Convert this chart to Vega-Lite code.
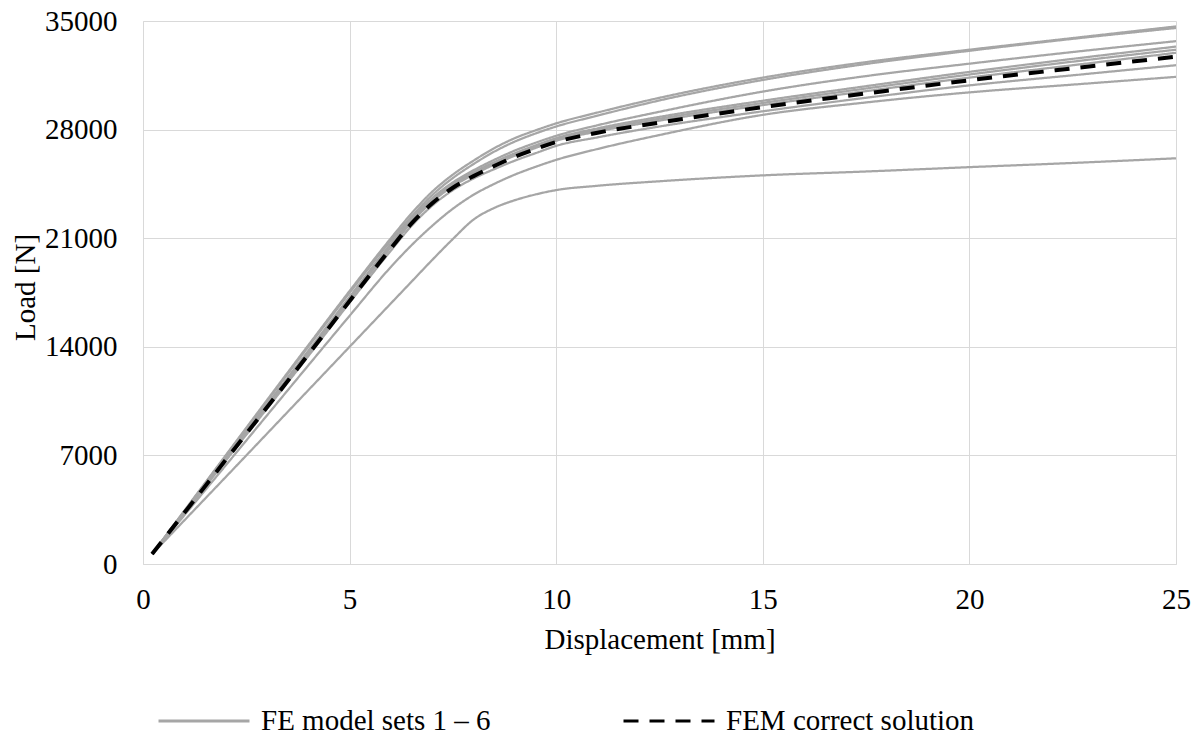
{
  "$schema": "https://vega.github.io/schema/vega-lite/v6.json",
  "width": 1033,
  "height": 543,
  "autosize": {"type": "none"},
  "padding": {"left": 143, "top": 21, "right": 18, "bottom": 171},
  "background": "white",
  "config": {
    "view": {"stroke": null},
    "font": "Liberation Serif",
    "axis": {
      "grid": true,
      "gridColor": "#d9d9d9",
      "gridWidth": 1,
      "domainColor": "#d9d9d9",
      "domainWidth": 1,
      "ticks": false,
      "tickSize": 0,
      "labelFont": "Liberation Serif",
      "labelFontSize": 29,
      "labelColor": "#000000",
      "titleFont": "Liberation Serif",
      "titleFontSize": 29,
      "titleFontWeight": "normal",
      "titleColor": "#000000"
    },
    "legend": {
      "orient": "none",
      "legendX": 14,
      "legendY": 653,
      "direction": "horizontal",
      "title": null,
      "symbolType": "stroke",
      "symbolSize": 8281,
      "symbolStrokeWidth": 3,
      "labelFont": "Liberation Serif",
      "labelFontSize": 29,
      "labelColor": "#000000",
      "labelOffset": 10,
      "labelLimit": 500,
      "columnPadding": 126
    }
  },
  "datasets": {
    "fe": [
      {"curve": "T1", "set": "FE model sets 1 – 6", "x": 0.22, "load": 640},
      {"curve": "T1", "set": "FE model sets 1 – 6", "x": 2, "load": 7000},
      {"curve": "T1", "set": "FE model sets 1 – 6", "x": 4, "load": 14100},
      {"curve": "T1", "set": "FE model sets 1 – 6", "x": 5, "load": 17600},
      {"curve": "T1", "set": "FE model sets 1 – 6", "x": 6, "load": 21000},
      {"curve": "T1", "set": "FE model sets 1 – 6", "x": 6.5, "load": 22600},
      {"curve": "T1", "set": "FE model sets 1 – 6", "x": 7, "load": 24000},
      {"curve": "T1", "set": "FE model sets 1 – 6", "x": 7.5, "load": 25100},
      {"curve": "T1", "set": "FE model sets 1 – 6", "x": 8, "load": 26000},
      {"curve": "T1", "set": "FE model sets 1 – 6", "x": 8.5, "load": 26800},
      {"curve": "T1", "set": "FE model sets 1 – 6", "x": 9, "load": 27450},
      {"curve": "T1", "set": "FE model sets 1 – 6", "x": 9.5, "load": 27950},
      {"curve": "T1", "set": "FE model sets 1 – 6", "x": 10, "load": 28400},
      {"curve": "T1", "set": "FE model sets 1 – 6", "x": 11, "load": 29100},
      {"curve": "T1", "set": "FE model sets 1 – 6", "x": 12.5, "load": 30050},
      {"curve": "T1", "set": "FE model sets 1 – 6", "x": 15, "load": 31350},
      {"curve": "T1", "set": "FE model sets 1 – 6", "x": 17.5, "load": 32350},
      {"curve": "T1", "set": "FE model sets 1 – 6", "x": 20, "load": 33150},
      {"curve": "T1", "set": "FE model sets 1 – 6", "x": 22.5, "load": 33900},
      {"curve": "T1", "set": "FE model sets 1 – 6", "x": 25, "load": 34650},

      {"curve": "T2", "set": "FE model sets 1 – 6", "x": 0.22, "load": 640},
      {"curve": "T2", "set": "FE model sets 1 – 6", "x": 2, "load": 6950},
      {"curve": "T2", "set": "FE model sets 1 – 6", "x": 4, "load": 14000},
      {"curve": "T2", "set": "FE model sets 1 – 6", "x": 5, "load": 17480},
      {"curve": "T2", "set": "FE model sets 1 – 6", "x": 6, "load": 20850},
      {"curve": "T2", "set": "FE model sets 1 – 6", "x": 6.5, "load": 22400},
      {"curve": "T2", "set": "FE model sets 1 – 6", "x": 7, "load": 23780},
      {"curve": "T2", "set": "FE model sets 1 – 6", "x": 7.5, "load": 24880},
      {"curve": "T2", "set": "FE model sets 1 – 6", "x": 8, "load": 25780},
      {"curve": "T2", "set": "FE model sets 1 – 6", "x": 8.5, "load": 26580},
      {"curve": "T2", "set": "FE model sets 1 – 6", "x": 9, "load": 27230},
      {"curve": "T2", "set": "FE model sets 1 – 6", "x": 9.5, "load": 27750},
      {"curve": "T2", "set": "FE model sets 1 – 6", "x": 10, "load": 28200},
      {"curve": "T2", "set": "FE model sets 1 – 6", "x": 11, "load": 28900},
      {"curve": "T2", "set": "FE model sets 1 – 6", "x": 12.5, "load": 29880},
      {"curve": "T2", "set": "FE model sets 1 – 6", "x": 15, "load": 31200},
      {"curve": "T2", "set": "FE model sets 1 – 6", "x": 17.5, "load": 32230},
      {"curve": "T2", "set": "FE model sets 1 – 6", "x": 20, "load": 33080},
      {"curve": "T2", "set": "FE model sets 1 – 6", "x": 22.5, "load": 33850},
      {"curve": "T2", "set": "FE model sets 1 – 6", "x": 25, "load": 34550},

      {"curve": "S2", "set": "FE model sets 1 – 6", "x": 0.22, "load": 640},
      {"curve": "S2", "set": "FE model sets 1 – 6", "x": 2, "load": 6820},
      {"curve": "S2", "set": "FE model sets 1 – 6", "x": 4, "load": 13740},
      {"curve": "S2", "set": "FE model sets 1 – 6", "x": 5, "load": 17220},
      {"curve": "S2", "set": "FE model sets 1 – 6", "x": 6, "load": 20650},
      {"curve": "S2", "set": "FE model sets 1 – 6", "x": 6.5, "load": 22250},
      {"curve": "S2", "set": "FE model sets 1 – 6", "x": 7, "load": 23580},
      {"curve": "S2", "set": "FE model sets 1 – 6", "x": 7.5, "load": 24600},
      {"curve": "S2", "set": "FE model sets 1 – 6", "x": 8, "load": 25380},
      {"curve": "S2", "set": "FE model sets 1 – 6", "x": 8.5, "load": 26050},
      {"curve": "S2", "set": "FE model sets 1 – 6", "x": 9, "load": 26650},
      {"curve": "S2", "set": "FE model sets 1 – 6", "x": 9.5, "load": 27150},
      {"curve": "S2", "set": "FE model sets 1 – 6", "x": 10, "load": 27600},
      {"curve": "S2", "set": "FE model sets 1 – 6", "x": 11, "load": 28280},
      {"curve": "S2", "set": "FE model sets 1 – 6", "x": 12.5, "load": 29150},
      {"curve": "S2", "set": "FE model sets 1 – 6", "x": 15, "load": 30450},
      {"curve": "S2", "set": "FE model sets 1 – 6", "x": 17.5, "load": 31450},
      {"curve": "S2", "set": "FE model sets 1 – 6", "x": 20, "load": 32250},
      {"curve": "S2", "set": "FE model sets 1 – 6", "x": 22.5, "load": 33000},
      {"curve": "S2", "set": "FE model sets 1 – 6", "x": 25, "load": 33700},

      {"curve": "B1", "set": "FE model sets 1 – 6", "x": 0.22, "load": 640},
      {"curve": "B1", "set": "FE model sets 1 – 6", "x": 2, "load": 6790},
      {"curve": "B1", "set": "FE model sets 1 – 6", "x": 4, "load": 13680},
      {"curve": "B1", "set": "FE model sets 1 – 6", "x": 5, "load": 17150},
      {"curve": "B1", "set": "FE model sets 1 – 6", "x": 6, "load": 20580},
      {"curve": "B1", "set": "FE model sets 1 – 6", "x": 6.5, "load": 22180},
      {"curve": "B1", "set": "FE model sets 1 – 6", "x": 7, "load": 23500},
      {"curve": "B1", "set": "FE model sets 1 – 6", "x": 7.5, "load": 24500},
      {"curve": "B1", "set": "FE model sets 1 – 6", "x": 8, "load": 25250},
      {"curve": "B1", "set": "FE model sets 1 – 6", "x": 8.5, "load": 25900},
      {"curve": "B1", "set": "FE model sets 1 – 6", "x": 9, "load": 26480},
      {"curve": "B1", "set": "FE model sets 1 – 6", "x": 9.5, "load": 26980},
      {"curve": "B1", "set": "FE model sets 1 – 6", "x": 10, "load": 27450},
      {"curve": "B1", "set": "FE model sets 1 – 6", "x": 11, "load": 28080},
      {"curve": "B1", "set": "FE model sets 1 – 6", "x": 12.5, "load": 28820},
      {"curve": "B1", "set": "FE model sets 1 – 6", "x": 15, "load": 29860},
      {"curve": "B1", "set": "FE model sets 1 – 6", "x": 17.5, "load": 30800},
      {"curve": "B1", "set": "FE model sets 1 – 6", "x": 20, "load": 31720},
      {"curve": "B1", "set": "FE model sets 1 – 6", "x": 22.5, "load": 32560},
      {"curve": "B1", "set": "FE model sets 1 – 6", "x": 25, "load": 33350},

      {"curve": "B2", "set": "FE model sets 1 – 6", "x": 0.22, "load": 640},
      {"curve": "B2", "set": "FE model sets 1 – 6", "x": 2, "load": 6760},
      {"curve": "B2", "set": "FE model sets 1 – 6", "x": 4, "load": 13620},
      {"curve": "B2", "set": "FE model sets 1 – 6", "x": 5, "load": 17080},
      {"curve": "B2", "set": "FE model sets 1 – 6", "x": 6, "load": 20500},
      {"curve": "B2", "set": "FE model sets 1 – 6", "x": 6.5, "load": 22100},
      {"curve": "B2", "set": "FE model sets 1 – 6", "x": 7, "load": 23430},
      {"curve": "B2", "set": "FE model sets 1 – 6", "x": 7.5, "load": 24430},
      {"curve": "B2", "set": "FE model sets 1 – 6", "x": 8, "load": 25180},
      {"curve": "B2", "set": "FE model sets 1 – 6", "x": 8.5, "load": 25830},
      {"curve": "B2", "set": "FE model sets 1 – 6", "x": 9, "load": 26400},
      {"curve": "B2", "set": "FE model sets 1 – 6", "x": 9.5, "load": 26900},
      {"curve": "B2", "set": "FE model sets 1 – 6", "x": 10, "load": 27360},
      {"curve": "B2", "set": "FE model sets 1 – 6", "x": 11, "load": 27980},
      {"curve": "B2", "set": "FE model sets 1 – 6", "x": 12.5, "load": 28700},
      {"curve": "B2", "set": "FE model sets 1 – 6", "x": 15, "load": 29720},
      {"curve": "B2", "set": "FE model sets 1 – 6", "x": 17.5, "load": 30650},
      {"curve": "B2", "set": "FE model sets 1 – 6", "x": 20, "load": 31550},
      {"curve": "B2", "set": "FE model sets 1 – 6", "x": 22.5, "load": 32380},
      {"curve": "B2", "set": "FE model sets 1 – 6", "x": 25, "load": 33150},

      {"curve": "B3", "set": "FE model sets 1 – 6", "x": 0.22, "load": 640},
      {"curve": "B3", "set": "FE model sets 1 – 6", "x": 2, "load": 6730},
      {"curve": "B3", "set": "FE model sets 1 – 6", "x": 4, "load": 13560},
      {"curve": "B3", "set": "FE model sets 1 – 6", "x": 5, "load": 17020},
      {"curve": "B3", "set": "FE model sets 1 – 6", "x": 6, "load": 20420},
      {"curve": "B3", "set": "FE model sets 1 – 6", "x": 6.5, "load": 22030},
      {"curve": "B3", "set": "FE model sets 1 – 6", "x": 7, "load": 23350},
      {"curve": "B3", "set": "FE model sets 1 – 6", "x": 7.5, "load": 24350},
      {"curve": "B3", "set": "FE model sets 1 – 6", "x": 8, "load": 25100},
      {"curve": "B3", "set": "FE model sets 1 – 6", "x": 8.5, "load": 25750},
      {"curve": "B3", "set": "FE model sets 1 – 6", "x": 9, "load": 26320},
      {"curve": "B3", "set": "FE model sets 1 – 6", "x": 9.5, "load": 26820},
      {"curve": "B3", "set": "FE model sets 1 – 6", "x": 10, "load": 27280},
      {"curve": "B3", "set": "FE model sets 1 – 6", "x": 11, "load": 27880},
      {"curve": "B3", "set": "FE model sets 1 – 6", "x": 12.5, "load": 28580},
      {"curve": "B3", "set": "FE model sets 1 – 6", "x": 15, "load": 29580},
      {"curve": "B3", "set": "FE model sets 1 – 6", "x": 17.5, "load": 30480},
      {"curve": "B3", "set": "FE model sets 1 – 6", "x": 20, "load": 31350},
      {"curve": "B3", "set": "FE model sets 1 – 6", "x": 22.5, "load": 32150},
      {"curve": "B3", "set": "FE model sets 1 – 6", "x": 25, "load": 32950},

      {"curve": "B4", "set": "FE model sets 1 – 6", "x": 0.22, "load": 640},
      {"curve": "B4", "set": "FE model sets 1 – 6", "x": 2, "load": 6650},
      {"curve": "B4", "set": "FE model sets 1 – 6", "x": 4, "load": 13400},
      {"curve": "B4", "set": "FE model sets 1 – 6", "x": 5, "load": 16850},
      {"curve": "B4", "set": "FE model sets 1 – 6", "x": 6, "load": 20200},
      {"curve": "B4", "set": "FE model sets 1 – 6", "x": 6.5, "load": 21800},
      {"curve": "B4", "set": "FE model sets 1 – 6", "x": 7, "load": 23100},
      {"curve": "B4", "set": "FE model sets 1 – 6", "x": 7.5, "load": 24100},
      {"curve": "B4", "set": "FE model sets 1 – 6", "x": 8, "load": 24850},
      {"curve": "B4", "set": "FE model sets 1 – 6", "x": 8.5, "load": 25450},
      {"curve": "B4", "set": "FE model sets 1 – 6", "x": 9, "load": 26000},
      {"curve": "B4", "set": "FE model sets 1 – 6", "x": 9.5, "load": 26480},
      {"curve": "B4", "set": "FE model sets 1 – 6", "x": 10, "load": 26950},
      {"curve": "B4", "set": "FE model sets 1 – 6", "x": 11, "load": 27500},
      {"curve": "B4", "set": "FE model sets 1 – 6", "x": 12.5, "load": 28200},
      {"curve": "B4", "set": "FE model sets 1 – 6", "x": 15, "load": 29180},
      {"curve": "B4", "set": "FE model sets 1 – 6", "x": 17.5, "load": 30050},
      {"curve": "B4", "set": "FE model sets 1 – 6", "x": 20, "load": 30850},
      {"curve": "B4", "set": "FE model sets 1 – 6", "x": 22.5, "load": 31500},
      {"curve": "B4", "set": "FE model sets 1 – 6", "x": 25, "load": 32150},

      {"curve": "S3", "set": "FE model sets 1 – 6", "x": 0.22, "load": 640},
      {"curve": "S3", "set": "FE model sets 1 – 6", "x": 2, "load": 6350},
      {"curve": "S3", "set": "FE model sets 1 – 6", "x": 4, "load": 12800},
      {"curve": "S3", "set": "FE model sets 1 – 6", "x": 5, "load": 16000},
      {"curve": "S3", "set": "FE model sets 1 – 6", "x": 6, "load": 19150},
      {"curve": "S3", "set": "FE model sets 1 – 6", "x": 6.5, "load": 20550},
      {"curve": "S3", "set": "FE model sets 1 – 6", "x": 7, "load": 21800},
      {"curve": "S3", "set": "FE model sets 1 – 6", "x": 7.5, "load": 22900},
      {"curve": "S3", "set": "FE model sets 1 – 6", "x": 8, "load": 23800},
      {"curve": "S3", "set": "FE model sets 1 – 6", "x": 8.5, "load": 24500},
      {"curve": "S3", "set": "FE model sets 1 – 6", "x": 9, "load": 25100},
      {"curve": "S3", "set": "FE model sets 1 – 6", "x": 9.5, "load": 25600},
      {"curve": "S3", "set": "FE model sets 1 – 6", "x": 10, "load": 26050},
      {"curve": "S3", "set": "FE model sets 1 – 6", "x": 11, "load": 26750},
      {"curve": "S3", "set": "FE model sets 1 – 6", "x": 12.5, "load": 27650},
      {"curve": "S3", "set": "FE model sets 1 – 6", "x": 15, "load": 28950},
      {"curve": "S3", "set": "FE model sets 1 – 6", "x": 17.5, "load": 29750},
      {"curve": "S3", "set": "FE model sets 1 – 6", "x": 20, "load": 30400},
      {"curve": "S3", "set": "FE model sets 1 – 6", "x": 22.5, "load": 30900},
      {"curve": "S3", "set": "FE model sets 1 – 6", "x": 25, "load": 31400},

      {"curve": "L", "set": "FE model sets 1 – 6", "x": 0.22, "load": 640},
      {"curve": "L", "set": "FE model sets 1 – 6", "x": 2, "load": 5600},
      {"curve": "L", "set": "FE model sets 1 – 6", "x": 4, "load": 11200},
      {"curve": "L", "set": "FE model sets 1 – 6", "x": 5, "load": 14000},
      {"curve": "L", "set": "FE model sets 1 – 6", "x": 6, "load": 16800},
      {"curve": "L", "set": "FE model sets 1 – 6", "x": 6.5, "load": 18200},
      {"curve": "L", "set": "FE model sets 1 – 6", "x": 7, "load": 19600},
      {"curve": "L", "set": "FE model sets 1 – 6", "x": 7.5, "load": 20950},
      {"curve": "L", "set": "FE model sets 1 – 6", "x": 8, "load": 22200},
      {"curve": "L", "set": "FE model sets 1 – 6", "x": 8.5, "load": 22950},
      {"curve": "L", "set": "FE model sets 1 – 6", "x": 9, "load": 23450},
      {"curve": "L", "set": "FE model sets 1 – 6", "x": 9.5, "load": 23820},
      {"curve": "L", "set": "FE model sets 1 – 6", "x": 10, "load": 24100},
      {"curve": "L", "set": "FE model sets 1 – 6", "x": 11, "load": 24380},
      {"curve": "L", "set": "FE model sets 1 – 6", "x": 12.5, "load": 24670},
      {"curve": "L", "set": "FE model sets 1 – 6", "x": 15, "load": 25050},
      {"curve": "L", "set": "FE model sets 1 – 6", "x": 17.5, "load": 25300},
      {"curve": "L", "set": "FE model sets 1 – 6", "x": 20, "load": 25580},
      {"curve": "L", "set": "FE model sets 1 – 6", "x": 22.5, "load": 25850},
      {"curve": "L", "set": "FE model sets 1 – 6", "x": 25, "load": 26150}
    ],
    "fem": [
      {"curve": "D", "set": "FEM correct solution", "x": 0.22, "load": 640},
      {"curve": "D", "set": "FEM correct solution", "x": 2, "load": 6700},
      {"curve": "D", "set": "FEM correct solution", "x": 4, "load": 13500},
      {"curve": "D", "set": "FEM correct solution", "x": 5, "load": 16950},
      {"curve": "D", "set": "FEM correct solution", "x": 6, "load": 20350},
      {"curve": "D", "set": "FEM correct solution", "x": 6.5, "load": 21950},
      {"curve": "D", "set": "FEM correct solution", "x": 7, "load": 23250},
      {"curve": "D", "set": "FEM correct solution", "x": 7.5, "load": 24250},
      {"curve": "D", "set": "FEM correct solution", "x": 8, "load": 25000},
      {"curve": "D", "set": "FEM correct solution", "x": 8.5, "load": 25650},
      {"curve": "D", "set": "FEM correct solution", "x": 9, "load": 26250},
      {"curve": "D", "set": "FEM correct solution", "x": 9.5, "load": 26750},
      {"curve": "D", "set": "FEM correct solution", "x": 10, "load": 27200},
      {"curve": "D", "set": "FEM correct solution", "x": 11, "load": 27800},
      {"curve": "D", "set": "FEM correct solution", "x": 12.5, "load": 28450},
      {"curve": "D", "set": "FEM correct solution", "x": 15, "load": 29450},
      {"curve": "D", "set": "FEM correct solution", "x": 17.5, "load": 30330},
      {"curve": "D", "set": "FEM correct solution", "x": 20, "load": 31180},
      {"curve": "D", "set": "FEM correct solution", "x": 22.5, "load": 31950},
      {"curve": "D", "set": "FEM correct solution", "x": 25, "load": 32700}
    ]
  },
  "encoding": {
    "x": {
      "field": "x",
      "type": "quantitative",
      "scale": {"domain": [0, 25], "nice": false, "zero": false},
      "axis": {
        "values": [0, 5, 10, 15, 20, 25],
        "title": "Displacement [mm]",
        "labelPadding": 21,
        "titlePadding": 11,
        "labelFlush": false
      }
    },
    "y": {
      "field": "load",
      "type": "quantitative",
      "scale": {"domain": [0, 35000], "nice": false},
      "axis": {
        "values": [0, 7000, 14000, 21000, 28000, 35000],
        "format": "d",
        "title": "Load [N]",
        "labelPadding": 26,
        "titlePadding": 4,
        "titleY": 266,
        "labelFlush": false
      }
    },
    "color": {
      "field": "set",
      "type": "nominal",
      "scale": {
        "domain": ["FE model sets 1 – 6", "FEM correct solution"],
        "range": ["#a6a6a6", "#000000"]
      }
    },
    "strokeDash": {
      "field": "set",
      "type": "nominal",
      "scale": {
        "domain": ["FE model sets 1 – 6", "FEM correct solution"],
        "range": [[1, 0], [15, 11]]
      }
    }
  },
  "layer": [
    {
      "data": {"name": "fe"},
      "mark": {"type": "line", "strokeWidth": 2.25, "interpolate": "monotone"},
      "encoding": {"detail": {"field": "curve", "type": "nominal"}}
    },
    {
      "data": {"name": "fem"},
      "mark": {"type": "line", "strokeWidth": 4, "interpolate": "monotone", "strokeCap": "butt"},
      "encoding": {}
    }
  ]
}
